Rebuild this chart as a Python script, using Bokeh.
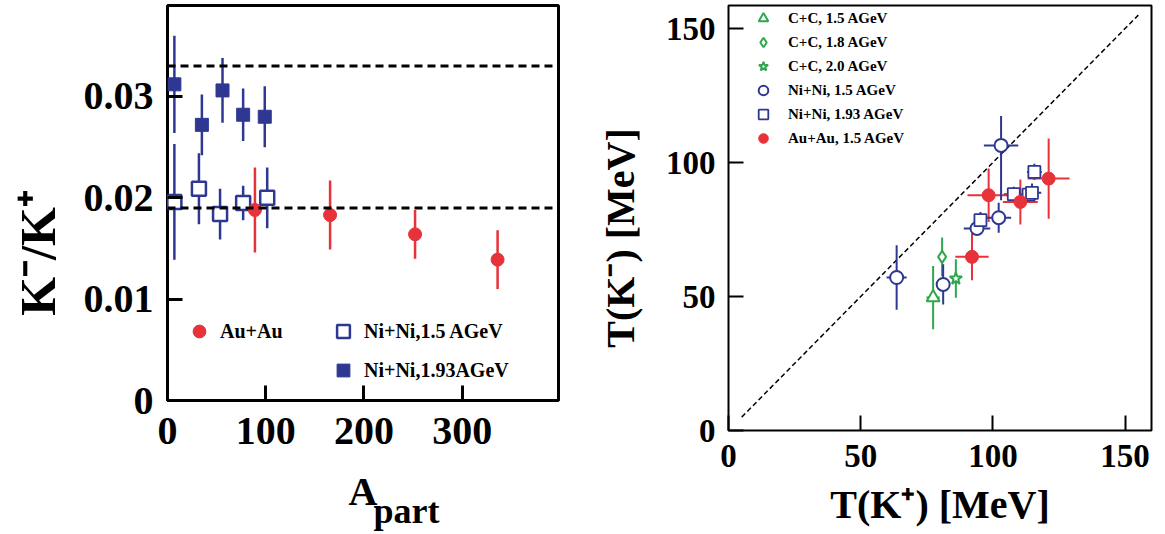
from bokeh.plotting import figure
from bokeh.layouts import row
from bokeh.models import Range1d, FixedTicker, Legend, LegendItem, Span, Title
from bokeh.embed import file_html
from bokeh.resources import INLINE

FONT = "Liberation Serif"
RED = "#E8323A"
BLUE = "#2E3892"
GREEN = "#2DA84C"

# ---------------- left panel data: K-/K+ vs A_part ----------------
ni193_a = [7, 35, 56, 77, 99]
ni193_r = [0.0312, 0.0272, 0.0306, 0.0282, 0.0280]
ni193_e = [0.0048, 0.0030, 0.0032, 0.0026, 0.0030]

ni15_a = [7, 32, 53.5, 77, 101.5]
ni15_r = [0.0196, 0.0209, 0.0184, 0.0195, 0.0200]
ni15_e = [0.0057, 0.0035, 0.0025, 0.0017, 0.0030]

au_a = [89, 165.5, 252, 336]
au_r = [0.0188, 0.0183, 0.0164, 0.0139]
au_e = [0.0042, 0.0034, 0.0024, 0.0029]

ratio_levels = [0.033, 0.019]
left_xticks = [0, 100, 200, 300]
left_yticks = [0, 0.01, 0.02, 0.03]

# ---------------- right panel data: T(K-) vs T(K+) ----------------
cc15_tp, cc15_tm, cc15_ex, cc15_ey = [77.4], [49.6], [2.5], [11.8]
cc18_tp, cc18_tm, cc18_ex, cc18_ey = [80.8], [64.8], [0.0], [7.2]
cc20_tp, cc20_tm, cc20_ex, cc20_ey = [86.0], [56.7], [0.0], [7.2]

nn15_tp = [63.6, 81.2, 94.0, 102.2, 103.1]
nn15_tm = [57.1, 54.5, 75.4, 79.4, 106.4]
nn15_ex = [3.8, 2.5, 5.0, 4.7, 6.5]
nn15_eu = [12.0, 7.5, 2.5, 5.6, 11.0]
nn15_ed = [12.0, 7.5, 2.5, 5.6, 20.5]

nn193_tp = [95.3, 107.9, 113.5, 114.8, 115.7]
nn193_tm = [78.5, 88.2, 88.0, 88.7, 96.5]
nn193_ex = [2.5, 3.8, 3.0, 3.5, 2.8]
nn193_ey = [3.0, 2.8, 3.0, 3.5, 3.0]

auau_tp = [92.1, 98.4, 110.4, 121.1]
auau_tm = [64.8, 87.8, 85.3, 94.0]
auau_ex = [6.3, 8.0, 6.6, 7.9]
auau_ey = [8.7, 10.0, 8.4, 15.0]

diag = [5, 155]
right_ticks = [0, 50, 100, 150]

EM = "\u2003"  # em space: keeps rotated titles off-centre like the original


def style(p, fs, lw):
    p.outline_line_color = "black"
    p.outline_line_width = lw
    p.outline_line_alpha = 1.0
    p.xgrid.visible = False
    p.ygrid.visible = False
    p.background_fill_color = "white"
    p.border_fill_color = "white"
    for ax in (p.xaxis[0], p.yaxis[0]):
        ax.axis_line_color = None
        ax.major_tick_in = 15
        ax.major_tick_out = 0
        ax.minor_tick_line_color = None
        ax.major_tick_line_width = lw
        ax.major_tick_line_color = "black"
        ax.major_label_text_font = FONT
        ax.major_label_text_font_style = "bold"
        ax.major_label_text_font_size = fs
        ax.major_label_text_color = "black"
        ax.axis_label_text_font = FONT
        ax.axis_label_text_font_style = "bold"
        ax.axis_label_text_color = "black"


def vbars(p, x, y, lo, hi, color, w):
    p.segment(x0=x, y0=[a - b for a, b in zip(y, lo)], x1=x,
              y1=[a + b for a, b in zip(y, hi)], line_color=color, line_width=w)


def hbars(p, x, y, ex, color, w):
    p.segment(x0=[a - b for a, b in zip(x, ex)], y0=y,
              x1=[a + b for a, b in zip(x, ex)], y1=y, line_color=color, line_width=w)


# ================= left figure =================
p1 = figure(frame_width=391, frame_height=395, min_border_left=167, min_border_right=35,
            min_border_top=5, min_border_bottom=134, x_range=Range1d(0, 398),
            y_range=Range1d(0, 0.03898), output_backend="svg", toolbar_location=None)
style(p1, "40px", 3)
p1.xaxis[0].ticker = FixedTicker(ticks=left_xticks)
p1.yaxis[0].ticker = FixedTicker(ticks=left_yticks)
p1.yaxis[0].major_label_overrides = {0: "0"}
p1.xaxis[0].major_label_standoff = 17
p1.yaxis[0].major_label_standoff = 14
p1.yaxis[0].axis_label = "K\u207b/K\u207a" + EM + EM
p1.yaxis[0].axis_label_text_font_size = "50px"
p1.yaxis[0].axis_label_standoff = 15
p1.xaxis[0].axis_label = "A"
p1.xaxis[0].axis_label_text_font_size = "40px"
p1.xaxis[0].axis_label_standoff = 22

for lv in ratio_levels:
    p1.add_layout(Span(location=lv, dimension="width", line_color="black",
                       line_width=3, line_dash="8 5"))

vbars(p1, ni193_a, ni193_r, ni193_e, ni193_e, BLUE, 2.5)
vbars(p1, ni15_a, ni15_r, ni15_e, ni15_e, BLUE, 2.5)
vbars(p1, au_a, au_r, au_e, au_e, RED, 2.5)
r_ni193 = p1.scatter(ni193_a, ni193_r, marker="square", size=13, fill_color=BLUE, line_color=BLUE)
r_ni15 = p1.scatter(ni15_a, ni15_r, marker="square", size=14, fill_color="white",
                    line_color=BLUE, line_width=2.5)
r_au = p1.scatter(au_a, au_r, marker="circle", size=13, fill_color=RED, line_color=RED)

leg_common = dict(margin=0, padding=0, background_fill_alpha=0, border_line_alpha=0,
                  label_text_font=FONT, label_text_font_style="bold",
                  label_text_color="black")
lg1 = Legend(items=[LegendItem(label="Au+Au", renderers=[r_au])], location=(16, 53),
             glyph_width=32, glyph_height=32, label_standoff=5, spacing=7,
             label_text_font_size="20px", **leg_common)
lg2 = Legend(items=[LegendItem(label="Ni+Ni,1.5 AGeV", renderers=[r_ni15]),
                    LegendItem(label="Ni+Ni,1.93AGeV", renderers=[r_ni193])],
             location=(160, 14), glyph_width=32, glyph_height=32, label_standoff=5,
             spacing=7, label_text_font_size="20px", **leg_common)
p1.add_layout(lg1)
p1.add_layout(lg2)

# subscript of the x-axis title "A_part"
p1.add_layout(Title(text="part", align="left", offset=206, standoff=-52,
                    vertical_align="top", text_font=FONT, text_font_style="bold",
                    text_font_size="36px", text_color="black"), "below")

# ================= right figure =================
p2 = figure(frame_width=423, frame_height=425, min_border_left=135, min_border_right=14,
            min_border_top=2, min_border_bottom=107, x_range=Range1d(0, 160),
            y_range=Range1d(0, 158.6), output_backend="svg", toolbar_location=None)
style(p2, "33px", 2)
p2.xaxis[0].ticker = FixedTicker(ticks=right_ticks)
p2.yaxis[0].ticker = FixedTicker(ticks=right_ticks)
p2.xaxis[0].major_label_standoff = 14
p2.yaxis[0].major_label_standoff = 13
p2.xaxis[0].axis_label = "T(K\u207a) [MeV]"
p2.yaxis[0].axis_label = "T(K\u207b) [MeV]" + EM
p2.xaxis[0].axis_label_text_font_size = "40px"
p2.yaxis[0].axis_label_text_font_size = "40px"
p2.xaxis[0].axis_label_standoff = 12
p2.yaxis[0].axis_label_standoff = 20

p2.line(diag, diag, line_color="black", line_width=1.5, line_dash="5 3")

for tp, tm, ex, ey, c in [(cc15_tp, cc15_tm, cc15_ex, cc15_ey, GREEN),
                          (cc18_tp, cc18_tm, cc18_ex, cc18_ey, GREEN),
                          (cc20_tp, cc20_tm, cc20_ex, cc20_ey, GREEN),
                          (nn193_tp, nn193_tm, nn193_ex, nn193_ey, BLUE),
                          (auau_tp, auau_tm, auau_ex, auau_ey, RED)]:
    vbars(p2, tp, tm, ey, ey, c, 2)
    hbars(p2, tp, tm, ex, c, 2)
vbars(p2, nn15_tp, nn15_tm, nn15_ed, nn15_eu, BLUE, 2)
hbars(p2, nn15_tp, nn15_tm, nn15_ex, BLUE, 2)

r_cc15 = p2.scatter(cc15_tp, cc15_tm, marker="triangle", size=13, fill_color="white",
                    line_color=GREEN, line_width=2)
r_cc18 = p2.scatter(cc18_tp, cc18_tm, marker="diamond", size=12, fill_color="white",
                    line_color=GREEN, line_width=2)
r_cc20 = p2.scatter(cc20_tp, cc20_tm, marker="star", size=13, fill_color="white",
                    line_color=GREEN, line_width=2)
r_nn15 = p2.scatter(nn15_tp, nn15_tm, marker="circle", size=13, fill_color="white",
                    line_color=BLUE, line_width=2)
r_nn193 = p2.scatter(nn193_tp, nn193_tm, marker="square", size=12, fill_color="white",
                     line_color=BLUE, line_width=1.8)
r_auau = p2.scatter(auau_tp, auau_tm, marker="circle", size=13, fill_color=RED,
                    line_color=RED)

lg3 = Legend(items=[LegendItem(label="C+C, 1.5 AGeV", renderers=[r_cc15]),
                    LegendItem(label="C+C, 1.8 AGeV", renderers=[r_cc18]),
                    LegendItem(label="C+C, 2.0 AGeV", renderers=[r_cc20]),
                    LegendItem(label="Ni+Ni, 1.5 AGeV", renderers=[r_nn15]),
                    LegendItem(label="Ni+Ni, 1.93 AGeV", renderers=[r_nn193]),
                    LegendItem(label="Au+Au, 1.5 AGeV", renderers=[r_auau])],
             location=(20, 280), glyph_width=30, glyph_height=24, label_standoff=10,
             spacing=0, label_text_font_size="15px", **leg_common)
p2.add_layout(lg3)

layout = row(p1, p2)
open("out.html", "w").write(file_html(layout, INLINE))
